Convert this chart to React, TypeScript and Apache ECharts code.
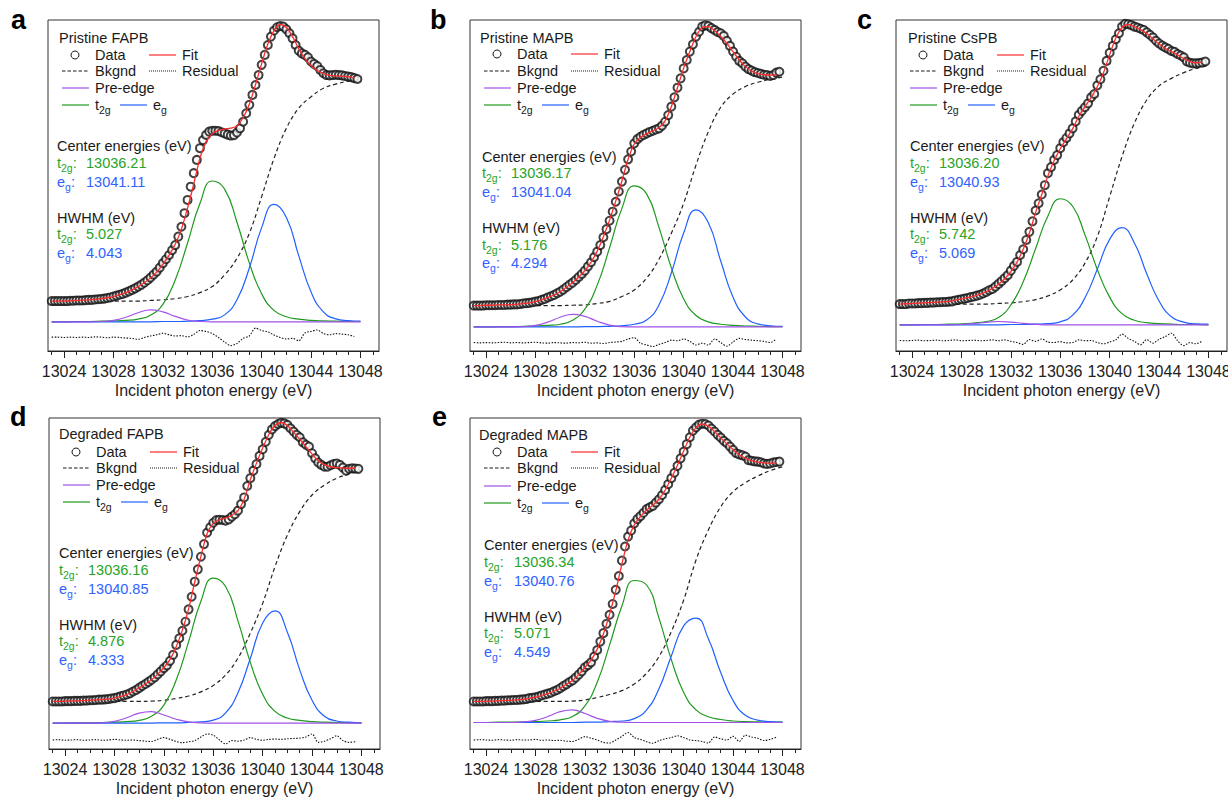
import React, { useEffect, useRef } from "react";
import * as echarts from "echarts";

const FONT = '"Liberation Sans", Arial, Helvetica, sans-serif';
const INK = "#1a1a1a";
const C_RED = "#ff2a2a";
const C_GREEN = "#1f9a1f";
const C_BLUE = "#2060ff";
const C_PURPLE = "#a052e8";
const T_GREEN = "#27a327";
const T_BLUE = "#2f62ff";

// ---------- axis ----------
const X_MIN = 13022.7;
const X_MAX = 13049.5;
const MAJOR_TICKS = [13024, 13028, 13032, 13036, 13040, 13044, 13048];
const MINOR_TICKS = [13023, 13024, 13025, 13026, 13027, 13028, 13029, 13030, 13031, 13032, 13033, 13034, 13035, 13036, 13037, 13038, 13039, 13040, 13041, 13042, 13043, 13044, 13045, 13046, 13047, 13048, 13049];
const X_TITLE = "Incident photon energy (eV)";

// sampling grids (measurement energies)
function energyGrid(start: number, stop: number, step: number): number[] {
  const out: number[] = [];
  for (let k = 0; start + k * step <= stop + 1e-9; k++) out.push(+(start + k * step).toFixed(2));
  return out;
}
const E_QUARTER = energyGrid(13023, 13047.75, 0.25); // data points
const E_HALF = energyGrid(13023, 13047.5, 0.5); // fit & residual
const E_ONE = energyGrid(13023, 13048, 1); // components & background

// ---------- panel texts ----------
const PANEL_LETTERS = ["a", "b", "c", "d", "e"];
const PANEL_TITLES = ["Pristine FAPB", "Pristine MAPB", "Pristine CsPB", "Degraded FAPB", "Degraded MAPB"];
const CENTER_T2G = ["13036.21", "13036.17", "13036.20", "13036.16", "13036.34"];
const CENTER_EG = ["13041.11", "13041.04", "13040.93", "13040.85", "13040.76"];
const HWHM_T2G = ["5.027", "5.176", "5.742", "4.876", "5.071"];
const HWHM_EG = ["4.043", "4.294", "5.069", "4.333", "4.549"];

// ---------- panel a: Pristine FAPB ----------
const A_DATA = [.066,.066,.066,.066, .066,.066,.067,.067, .068,.068,.068,.069, .070,.070,.071,.072, .073,.074,.076,.078, .081,.084,.087,.090, .094,.098,.103,.108, .114,.120,.127,.135, .144,.154,.164,.177, .192,.205,.219,.235, .252,.280,.313,.358, .402,.446,.491,.535, .574,.601,.618,.629, .632,.632,.631,.627, .623,.619,.616,.617, .626,.640,.662,.690, .718,.751,.784,.817, .851,.884,.917,.945, .965,.976,.980,.978, .969,.956,.939,.917, .898,.889,.884,.876, .862,.854,.847,.834, .823,.817,.816,.817, .818,.817,.816,.814, .812,.810,.807,.804];
const A_FIT = [.066,.066,.066,.067,.068,.069,.070,.072,.074,.077, .081,.087,.094,.103,.114,.127,.143,.162,.188,.218, .255,.305,.375,.455,.540,.595,.622,.633,.638,.641, .648,.675,.720,.785,.855,.920,.965,.985,.975,.945, .905,.872,.848,.832,.822,.816,.814,.813,.812,.808];
const A_BKG = [.066,.066,.066,.066,.066,.066,.066,.066, .068,.070,.074,.081,.094,.114,.153,.208,.291,.413,.540,.640,.707,.745,.773,.787,.797,.803];
const A_PRE = [-.003,-.003,-.003,-.003,-.002,.002,.012,.027,.037,.030,.015,.003,-.002, -.003,-.003,-.003,-.003,-.003,-.003,-.003,-.003,-.003,-.003,-.003,-.003,-.003];
const A_T2G = [-.003,-.003,-.002,-.002,-.001,0,.002,.006,.019,.055,.136,.259,.390,.465,.438,.328,.193,.090,.035,.014,.006,.002,0,-.001,-.002,-.002];
const A_EG = [-.003,-.003,-.003,-.003,-.003,-.003,-.003,-.003,-.003, -.002,-.002,-.001,.001,.006,.020,.070,.176,.310,.387,.344,.217,.096,.030,.007,.001,-.001];
const A_RES = [-.054,-.054,-.055,-.054,-.055,-.054,-.055,-.053,-.054,-.056, -.054,-.055,-.057,-.058,-.061,-.055,-.050,-.046,-.041,-.046, -.050,-.049,-.053,-.045,-.032,-.035,-.042,-.055,-.070,-.082, -.075,-.058,-.050,-.024,-.032,-.036,-.047,-.055,-.060,-.058, -.066,-.040,-.035,-.030,-.042,-.046,-.042,-.044,-.046,-.052];

// ---------- panel b: Pristine MAPB ----------
const B_DATA = [.051,.051,.051,.051, .052,.052,.052,.052, .053,.053,.053,.054, .054,.055,.055,.056, .058,.059,.060,.062, .064,.066,.070,.073, .078,.082,.086,.092, .097,.104,.112,.120, .127,.136,.146,.156, .167,.181,.195,.212, .230,.252,.278,.305, .333,.363,.396,.430, .463,.502,.537,.563, .590,.604,.612,.618, .623,.628,.632,.636, .640,.649,.662,.684, .712,.743,.775,.806, .839,.867,.895,.919, .945,.961,.978,.982, .980,.973,.967,.960, .956,.947,.931,.914, .895,.878,.864,.856, .845,.837,.832,.827, .824,.821,.818,.817, .814,.817,.825,.828];
const B_FIT = [.051,.051,.052,.052,.053,.053,.054,.055,.058,.060, .064,.070,.078,.086,.097,.112,.127,.146,.167,.195, .232,.280,.335,.398,.465,.537,.588,.610,.622,.632, .642,.665,.712,.775,.840,.895,.945,.975,.978,.965, .945,.922,.895,.867,.845,.830,.822,.818,.817,.818];
const B_BKG = [.051,.051,.051,.051,.051,.051,.051,.051, .052,.053,.058,.065,.081,.103,.142,.205,.291,.391,.518,.629,.710,.754,.779,.793,.803,.810];
const B_PRE = [-.020,-.020,-.020,-.020, -.019,-.015,-.004,.012,.022,.015,-.001,-.014,-.019, -.020,-.020,-.020,-.020,-.020,-.020,-.020,-.020,-.020,-.020,-.020,-.020,-.020];
const B_T2G = [-.020,-.020,-.019,-.019,-.018,-.017,-.015,-.011,.002,.039,.119,.243,.374,.449,.422,.311,.177,.073,.018,-.003,-.011,-.015,-.017,-.018,-.019,-.019];
const B_EG = [-.020,-.020,-.020,-.020,-.020,-.020,-.020,-.020,-.020, -.019,-.019,-.018,-.016,-.011,.003,.053,.159,.292,.369,.326,.199,.079,.013,-.010,-.016,-.018];
const B_RES = [-.072,-.073,-.072,-.073,-.072,-.071,-.073,-.072,-.073,-.072, -.071,-.073,-.074,-.072,-.073,-.074,-.072,-.073,-.071,-.074, -.073,-.075,-.072,-.070,-.068,-.060,-.056,-.074,-.080,-.085, -.078,-.072,-.064,-.066,-.060,-.068,-.080,-.074,-.080,-.060, -.072,-.084,-.070,-.058,-.062,-.064,-.066,-.068,-.072,-.060];

// ---------- panel c: Pristine CsPB ----------
const C_DATA = [.056,.056,.056,.058, .058,.058,.059,.059, .060,.060,.061,.061, .062,.062,.063,.063, .064,.065,.068,.070, .072,.074,.076,.079, .081,.084,.087,.091, .096,.102,.106,.114, .123,.132,.142,.152, .167,.183,.196,.219, .238,.269,.296,.331, .367,.391,.420,.451, .491,.511,.535,.551, .574,.594,.608,.623, .640,.663,.685,.698, .710,.723,.743,.754, .783,.803,.831,.864, .891,.914,.936,.956, .978,.987,.986,.983, .978,.975,.971,.967, .959,.951,.942,.931, .922,.915,.909,.904, .897,.894,.887,.882, .876,.862,.858,.856, .856,.857,.859,.862];
const C_FIT = [.056,.057,.058,.059,.060,.061,.062,.063,.065,.069, .073,.077,.082,.089,.097,.108,.122,.140,.164,.195, .238,.292,.360,.420,.482,.532,.572,.605,.638,.680, .712,.742,.778,.825,.885,.940,.975,.985,.978,.968, .955,.938,.920,.905,.895,.884,.872,.862,.858,.860];
const C_BKG = [.056,.056,.056,.056,.056,.056,.056,.056, .058,.060,.064,.071,.083,.103,.136,.192,.280,.413,.546,.657,.734,.781,.806,.825,.839,.849];
const C_PRE = [-.013,-.013,-.013,-.013,-.013, -.012,-.009,-.005,-.002,-.004,-.008,-.011, -.013,-.013,-.013,-.013,-.013,-.013,-.013,-.013,-.013,-.013,-.013,-.013,-.013,-.013];
const C_T2G = [-.013,-.013,-.012,-.012,-.011,-.010,-.007,-.002,.011,.053,.130,.240,.349,.406,.381,.286,.171,.079,.024,.002,-.006,-.009,-.011,-.012,-.012,-.013];
const C_EG = [-.013,-.013,-.013,-.013,-.013,-.013,-.013,-.013,-.013, -.012,-.012,-.011,-.009,-.003,.019,.077,.172,.271,.310,.259,.157,.066,.014,-.004,-.010,-.011];
const C_RES = [-.065,-.066,-.065,-.064,-.066,-.065,-.064,-.066,-.065,-.063, -.066,-.065,-.064,-.066,-.065,-.063,-.066,-.063,-.068,-.072, -.078,-.062,-.068,-.060,-.070,-.072,-.069,-.073,-.072,-.063, -.066,-.065,-.072,-.076,-.070,-.063,-.044,-.058,-.068,-.079, -.062,-.074,-.061,-.052,-.041,-.066,-.082,-.072,-.076,-.066];

// ---------- panel d: Degraded FAPB ----------
const D_DATA = [.058,.058,.058,.058, .059,.059,.059,.060, .060,.060,.061,.061, .062,.062,.063,.064, .064,.065,.066,.068, .069,.072,.075,.078, .081,.085,.091,.096, .103,.110,.116,.123, .130,.138,.148,.158, .169,.178,.193,.213, .246,.268,.293,.323, .364,.406,.456,.497, .539,.581,.619,.637, .652,.661,.662,.661, .659,.663,.672,.680, .692,.714,.736,.774, .800,.825,.847,.874, .896,.921,.944,.962, .973,.980,.984,.982, .977,.966,.955,.944, .936,.919,.911,.905, .883,.866,.852,.844, .838,.838,.843,.847, .849,.844,.835,.825, .831,.833,.832,.831];
const D_FIT = [.058,.058,.059,.060,.060,.061,.062,.063,.064,.066, .069,.075,.081,.091,.103,.116,.130,.148,.170,.198, .240,.295,.365,.455,.540,.615,.650,.662,.668,.676, .692,.730,.795,.850,.900,.945,.975,.985,.975,.953, .930,.905,.880,.858,.845,.838,.835,.834,.833,.833];
const D_BKG = [.058,.058,.058,.058,.058,.058,.058,.058, .059,.062,.068,.076,.090,.111,.146,.202,.285,.384,.506,.611,.689,.744,.777,.800,.814,.825];
const D_PRE = [-.014,-.014,-.014,-.014, -.013,-.008,.004,.019,.024,.013,-.001,-.010,-.013, -.014,-.014,-.014,-.014,-.014,-.014,-.014,-.014,-.014,-.014,-.014,-.014,-.014];
const D_T2G = [-.014,-.014,-.013,-.013,-.012,-.011,-.009,-.005,.009,.046,.129,.256,.391,.468,.440,.326,.188,.082,.025,.003,-.005,-.009,-.011,-.012,-.013,-.013];
const D_EG = [-.014,-.014,-.014,-.014,-.014,-.014,-.014,-.014,-.014, -.013,-.013,-.012,-.010,-.004,.020,.087,.201,.319,.359,.288,.163,.062,.009,-.007,-.011,-.013];
const D_RES = [-.070,-.069,-.071,-.070,-.069,-.071,-.070,-.069,-.071,-.070, -.068,-.070,-.071,-.070,-.072,-.074,-.075,-.068,-.062,-.068, -.075,-.079,-.076,-.072,-.060,-.050,-.054,-.070,-.083,-.072, -.074,-.070,-.062,-.068,-.071,-.068,-.067,-.068,-.066,-.065, -.064,-.060,-.050,-.078,-.074,-.066,-.056,-.072,-.078,-.076];

// ---------- panel e: Degraded MAPB ----------
const E_DATA = [.058,.058,.058,.058, .059,.059,.059,.060, .060,.061,.061,.062, .062,.063,.063,.064, .065,.066,.069,.070, .072,.074,.078,.081, .084,.087,.092,.096, .102,.109,.115,.122, .128,.137,.147,.158, .171,.179,.188,.207, .229,.257,.285,.316, .346,.382,.429,.475, .526,.573,.606,.626, .650,.664,.674,.685, .697,.703,.708,.719, .730,.744,.761,.780, .800,.818,.841,.866, .888,.913,.936,.958, .969,.978,.981,.980, .975,.965,.955,.944, .935,.924,.916,.905, .894,.883,.879,.876, .872,.860,.858,.856, .855,.853,.849,.847, .849,.852,.854,.855];
const E_FIT = [.058,.058,.059,.059,.060,.061,.062,.063,.065,.068, .072,.078,.084,.092,.102,.115,.128,.147,.171,.195, .232,.282,.348,.425,.515,.595,.645,.672,.694,.710, .730,.760,.800,.843,.890,.937,.968,.980,.973,.955, .934,.914,.895,.878,.866,.858,.853,.851,.850,.851];
const E_BKG = [.058,.058,.058,.058,.058,.058,.058,.058, .059,.063,.071,.081,.094,.116,.152,.207,.290,.395,.528,.628,.705,.755,.785,.807,.825,.838];
const E_PRE = [-.012,-.012,-.012,-.012, -.010,-.005,.008,.024,.030,.018,.002,-.008,-.011, -.012,-.012,-.012,-.012,-.012,-.012,-.012,-.012,-.012,-.012,-.012,-.012,-.012];
const E_T2G = [-.012,-.012,-.011,-.011,-.010,-.009,-.007,-.003,.008,.043,.122,.245,.375,.460,.445,.335,.197,.088,.030,.007,-.002,-.007,-.009,-.010,-.011,-.011];
const E_EG = [-.012,-.012,-.012,-.012,-.012,-.012,-.012,-.012,-.012, -.011,-.011,-.009,-.007,.001,.030,.100,.209,.309,.335,.266,.154,.061,.012,-.004,-.009,-.011];
const E_RES = [-.070,-.069,-.070,-.071,-.069,-.070,-.071,-.069,-.070,-.070, -.068,-.071,-.070,-.072,-.071,-.074,-.075,-.068,-.059,-.064, -.070,-.078,-.080,-.070,-.058,-.045,-.062,-.068,-.076,-.081, -.072,-.066,-.062,-.056,-.062,-.070,-.072,-.075,-.080,-.060, -.066,-.070,-.058,-.075,-.054,-.060,-.064,-.072,-.068,-.061];

const SERIES_SETS = [
  { data: A_DATA, fit: A_FIT, bkg: A_BKG, pre: A_PRE, t2g: A_T2G, eg: A_EG, res: A_RES },
  { data: B_DATA, fit: B_FIT, bkg: B_BKG, pre: B_PRE, t2g: B_T2G, eg: B_EG, res: B_RES },
  { data: C_DATA, fit: C_FIT, bkg: C_BKG, pre: C_PRE, t2g: C_T2G, eg: C_EG, res: C_RES },
  { data: D_DATA, fit: D_FIT, bkg: D_BKG, pre: D_PRE, t2g: D_T2G, eg: D_EG, res: D_RES },
  { data: E_DATA, fit: E_FIT, bkg: E_BKG, pre: E_PRE, t2g: E_T2G, eg: E_EG, res: E_RES },
];

// ---------- layout ----------
const PANEL_LEFT = [48, 470, 896, 49, 470];
const PANEL_TOP = [20, 20, 20, 418, 418];
const PANEL_SIZE = 331;
const LETTER_POS = [[11, 20], [430, 20], [857, 20], [10, 417], [432, 417]];
const TEXT_LAYOUT = [
  { titleDx: 11, titleDy: 18, rows: [35, 51, 68, 85], statDx: 9, valDx: 38, statDy: [126, 143, 162, 198, 214, 233] },
  { titleDx: 10, titleDy: 18, rows: [34, 51, 68, 85], statDx: 12, valDx: 41, statDy: [137, 153, 172, 208, 225, 243] },
  { titleDx: 12, titleDy: 18, rows: [35, 51, 68, 85], statDx: 14, valDx: 43, statDy: [126, 143, 162, 198, 214, 233] },
  { titleDx: 10, titleDy: 16, rows: [34, 50, 67, 84], statDx: 10, valDx: 39, statDy: [135, 152, 171, 207, 223, 242] },
  { titleDx: 9, titleDy: 17, rows: [34, 50, 68, 85], statDx: 14, valDx: 44, statDy: [127, 144, 163, 199, 215, 234] },
];
const FS = 14.5;

function pairs(xs: number[], ys: number[]) {
  return ys.map((y, k) => [xs[k], y]);
}

function txt(x: number, y: number, text: string, fill = INK, extra: any = {}) {
  return {
    type: "text", x, y, silent: true,
    style: { text, fill, fontSize: FS, fontFamily: FONT, align: "left", verticalAlign: "middle", ...extra },
  };
}

function subTxt(x: number, y: number, base: string, sub: string, tail: string, fill: string) {
  let t = `{m|${base}}{s|${sub}}`;
  if (tail) t += `{m|${tail}}`;
  return {
    type: "text", x, y, silent: true,
    style: {
      text: t, align: "left", verticalAlign: "middle",
      rich: {
        m: { fontSize: FS, fontFamily: FONT, fill, lineHeight: 20, verticalAlign: "middle" },
        s: { fontSize: 10.5, fontFamily: FONT, fill, lineHeight: 8, verticalAlign: "bottom" },
      },
    },
  };
}

function seg(x1: number, x2: number, y: number, stroke: string, dash?: number[]) {
  return {
    type: "line", silent: true,
    shape: { x1, y1: y, x2, y2: y },
    style: { stroke, lineWidth: 1.2, lineDash: dash || null },
  };
}

function panelGraphics(i: number) {
  const L = PANEL_LEFT[i];
  const T = PANEL_TOP[i];
  const lay = TEXT_LAYOUT[i];
  const r = lay.rows.map((d) => T + d);
  const els: any[] = [];
  els.push({
    type: "text", x: LETTER_POS[i][0], y: LETTER_POS[i][1], silent: true,
    style: { text: PANEL_LETTERS[i], fill: "#000", fontSize: 27, fontWeight: "bold", fontFamily: FONT, align: "left", verticalAlign: "middle" },
  });
  els.push(txt(L + lay.titleDx, T + lay.titleDy, PANEL_TITLES[i]));
  els.push({ type: "circle", silent: true, shape: { cx: L + 27, cy: r[0], r: 4 }, style: { fill: "#fff", stroke: INK, lineWidth: 1 } });
  els.push(txt(L + 47, r[0], "Data"));
  els.push(seg(L + 101, L + 128, r[0], C_RED));
  els.push(txt(L + 134, r[0], "Fit"));
  els.push(seg(L + 14, L + 41, r[1], INK, [3.5, 2]));
  els.push(txt(L + 47, r[1], "Bkgnd"));
  els.push(seg(L + 101, L + 128, r[1], INK, [1, 1]));
  els.push(txt(L + 134, r[1], "Residual"));
  els.push(seg(L + 14, L + 41, r[2], C_PURPLE));
  els.push(txt(L + 47, r[2], "Pre-edge"));
  els.push(seg(L + 14, L + 41, r[3], C_GREEN));
  els.push(subTxt(L + 47, r[3], "t", "2g", "", INK));
  els.push(seg(L + 72, L + 99, r[3], C_BLUE));
  els.push(subTxt(L + 105, r[3], "e", "g", "", INK));

  const sx = L + lay.statDx;
  const vx = L + lay.valDx;
  const sy = lay.statDy.map((d) => T + d);
  els.push(txt(sx, sy[0], "Center energies (eV)"));
  els.push(subTxt(sx, sy[1], "t", "2g", ":", T_GREEN));
  els.push(txt(vx, sy[1], CENTER_T2G[i], T_GREEN));
  els.push(subTxt(sx, sy[2], "e", "g", ":", T_BLUE));
  els.push(txt(vx, sy[2], CENTER_EG[i], T_BLUE));
  els.push(txt(sx, sy[3], "HWHM (eV)"));
  els.push(subTxt(sx, sy[4], "t", "2g", ":", T_GREEN));
  els.push(txt(vx, sy[4], HWHM_T2G[i], T_GREEN));
  els.push(subTxt(sx, sy[5], "e", "g", ":", T_BLUE));
  els.push(txt(vx, sy[5], HWHM_EG[i], T_BLUE));
  return els;
}

function buildOption() {
  const grids: any[] = [];
  const xAxes: any[] = [];
  const yAxes: any[] = [];
  const series: any[] = [];
  let graphics: any[] = [];

  for (let i = 0; i < 5; i++) {
    grids.push({
      left: PANEL_LEFT[i], top: PANEL_TOP[i], width: PANEL_SIZE, height: PANEL_SIZE,
      show: true, borderColor: "#333", borderWidth: 1, backgroundColor: "transparent",
      containLabel: false, outerBoundsMode: "none",
    });
    xAxes.push({
      type: "value", gridIndex: i, min: X_MIN, max: X_MAX, position: "bottom",
      axisLine: { show: true, onZero: false, lineStyle: { color: "#222", width: 1 } },
      axisTick: { show: true, customValues: MINOR_TICKS, length: 4, lineStyle: { color: "#222", width: 1 } },
      axisLabel: {
        show: true, customValues: MAJOR_TICKS, fontSize: 16, color: "#222", fontFamily: FONT, margin: 12, hideOverlap: false,
        formatter: (v: number) => String(Math.round(v)),
      },
      splitLine: { show: false },
      name: X_TITLE, nameLocation: "middle", nameGap: 31,
      nameTextStyle: { fontSize: 16, color: "#222", fontFamily: FONT },
    });
    xAxes.push({
      type: "value", gridIndex: i, min: X_MIN, max: X_MAX, position: "bottom",
      axisLine: { show: false, onZero: false },
      axisTick: { show: true, customValues: MAJOR_TICKS, length: 7, lineStyle: { color: "#222", width: 1 } },
      axisLabel: { show: false },
      splitLine: { show: false },
    });
    yAxes.push({ type: "value", gridIndex: i, min: -0.1, max: 1.0, show: false, splitLine: { show: false } });

    const s = SERIES_SETS[i];
    const xi = i * 2;
    const common = { xAxisIndex: xi, yAxisIndex: i, showSymbol: false, silent: true };
    series.push(
      { ...common, type: "line", name: "Residual", data: pairs(E_HALF, s.res), smooth: 0.3, lineStyle: { color: "#111", width: 1.1, type: [1.5, 1.5] }, z: 2 },
      { ...common, type: "line", name: "Bkgnd", data: pairs(E_ONE, s.bkg), smooth: 0.4, lineStyle: { color: "#222", width: 1.2, type: [4, 3] }, z: 2 },
      { ...common, type: "line", name: "t2g", data: pairs(E_ONE, s.t2g), smooth: 0.5, lineStyle: { color: C_GREEN, width: 1.2 }, z: 3 },
      { ...common, type: "line", name: "eg", data: pairs(E_ONE, s.eg), smooth: 0.5, lineStyle: { color: C_BLUE, width: 1.2 }, z: 3 },
      { ...common, type: "line", name: "Pre-edge", data: pairs(E_ONE, s.pre), smooth: 0.5, lineStyle: { color: C_PURPLE, width: 1.2 }, z: 3 },
      {
        xAxisIndex: xi, yAxisIndex: i, silent: true, type: "scatter", name: "Data",
        data: pairs(E_QUARTER, s.data), symbol: "emptyCircle", symbolSize: 8,
        itemStyle: { color: "#111", borderWidth: 1.2 }, z: 5,
      },
      { ...common, type: "line", name: "Fit", data: pairs(E_HALF, s.fit), smooth: 0.3, lineStyle: { color: C_RED, width: 1.3 }, z: 6 },
    );
    graphics = graphics.concat(panelGraphics(i));
  }

  return {
    animation: false,
    backgroundColor: "#fff",
    textStyle: { fontFamily: FONT },
    grid: grids,
    xAxis: xAxes,
    yAxis: yAxes,
    series,
    graphic: graphics,
  };
}

export default function App() {
  const ref = useRef<HTMLDivElement>(null);
  useEffect(() => {
    if (!ref.current) return;
    const chart = echarts.init(ref.current, null, { renderer: "svg" });
    chart.setOption(buildOption() as any);
    return () => chart.dispose();
  }, []);
  return (
    <div
      ref={ref}
      style={{ position: "fixed", left: 0, top: 0, width: 1228, height: 801, background: "#fff" }}
    />
  );
}
